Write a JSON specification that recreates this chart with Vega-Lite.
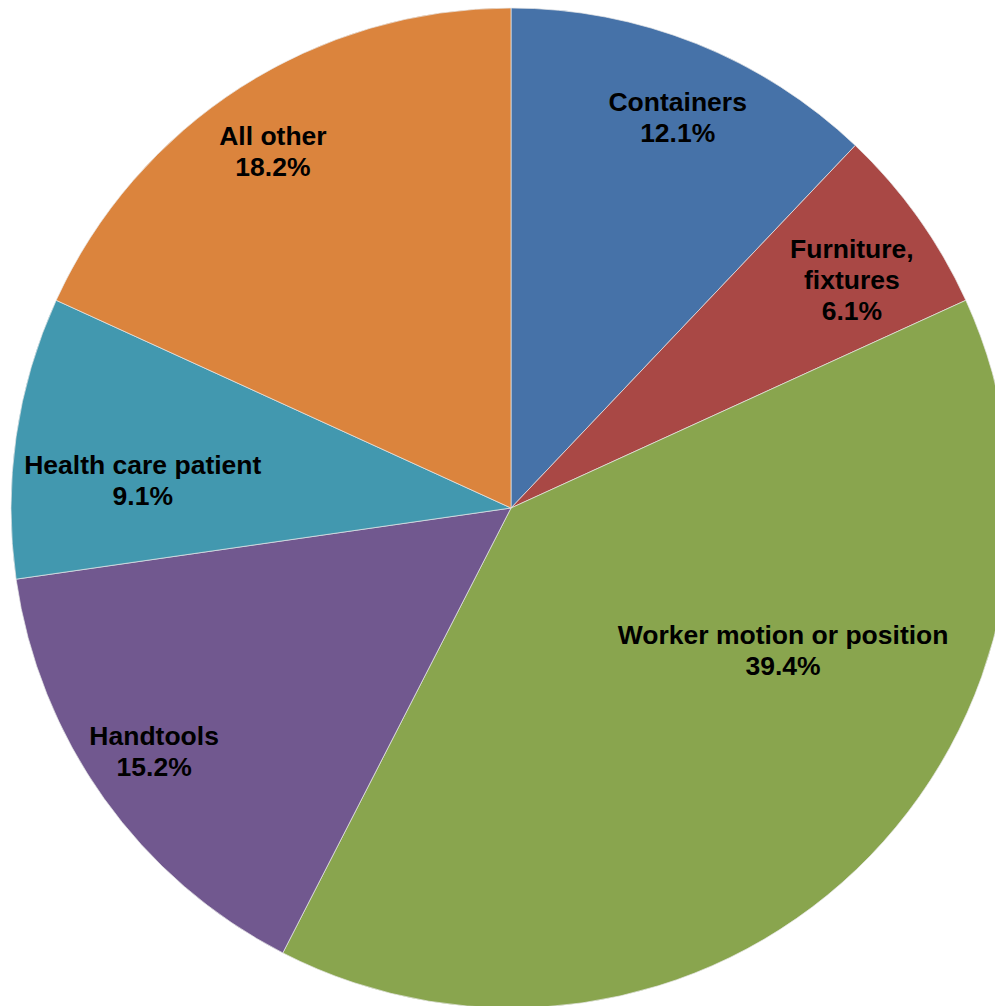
{
  "$schema": "https://vega.github.io/schema/vega-lite/v6.json",
  "width": 1022,
  "height": 1016,
  "autosize": "none",
  "padding": {"left": 0, "top": 0, "right": -27, "bottom": -10},
  "background": "white",
  "view": {"stroke": null},
  "data": {"values": [
    {"rank": 1, "category": "Containers", "value": 12.1, "label": "Containers\n12.1%"},
    {"rank": 2, "category": "Furniture, fixtures", "value": 6.1, "label": "Furniture,\nfixtures\n6.1%"},
    {"rank": 3, "category": "Worker motion or position", "value": 39.4, "label": "Worker motion or position\n39.4%"},
    {"rank": 4, "category": "Handtools", "value": 15.2, "label": "Handtools\n15.2%"},
    {"rank": 5, "category": "Health care patient", "value": 9.1, "label": "Health care patient\n9.1%"},
    {"rank": 6, "category": "All other", "value": 18.2, "label": "All other\n18.2%"}
  ]},
  "encoding": {
    "theta": {"field": "value", "type": "quantitative", "stack": true},
    "order": {"field": "rank", "type": "quantitative"}
  },
  "layer": [
    {
      "mark": {"type": "arc", "outerRadius": 500, "stroke": "#e8e8e8", "strokeWidth": 0.7},
      "encoding": {
        "color": {
          "field": "category", "type": "nominal", "legend": null,
          "scale": {
            "domain": ["Containers", "Furniture, fixtures", "Worker motion or position", "Handtools", "Health care patient", "All other"],
            "range": ["#4672A8", "#A94845", "#89A54E", "#71588F", "#4298AF", "#DB843D"]
          }
        }
      }
    },
    {
      "mark": {"type": "text", "radius": 420, "dx": 11, "dy": -15, "font": "Liberation Sans", "fontWeight": "bold", "fontSize": 26.5, "lineHeight": 31, "lineBreak": "\n", "color": "#000000", "align": "center", "baseline": "middle"},
      "encoding": {"text": {"condition": {"test": "datum.category === 'Containers'", "field": "label"}, "value": ""}}
    },
    {
      "mark": {"type": "text", "radius": 420, "dx": -1, "dy": -14, "font": "Liberation Sans", "fontWeight": "bold", "fontSize": 26.5, "lineHeight": 31, "lineBreak": "\n", "color": "#000000", "align": "center", "baseline": "middle"},
      "encoding": {"text": {"condition": {"test": "datum.category === 'Furniture, fixtures'", "field": "label"}, "value": ""}}
    },
    {
      "mark": {"type": "text", "radius": 307, "dx": 60, "dy": -94, "font": "Liberation Sans", "fontWeight": "bold", "fontSize": 26.5, "lineHeight": 31, "lineBreak": "\n", "color": "#000000", "align": "center", "baseline": "middle"},
      "encoding": {"text": {"condition": {"test": "datum.category === 'Worker motion or position'", "field": "label"}, "value": ""}}
    },
    {
      "mark": {"type": "text", "radius": 420, "dx": -15, "dy": -15, "font": "Liberation Sans", "fontWeight": "bold", "fontSize": 26.5, "lineHeight": 31, "lineBreak": "\n", "color": "#000000", "align": "center", "baseline": "middle"},
      "encoding": {"text": {"condition": {"test": "datum.category === 'Handtools'", "field": "label"}, "value": ""}}
    },
    {
      "mark": {"type": "text", "radius": 370, "dx": -2, "dy": 11, "font": "Liberation Sans", "fontWeight": "bold", "fontSize": 26.5, "lineHeight": 31, "lineBreak": "\n", "color": "#000000", "align": "center", "baseline": "middle"},
      "encoding": {"text": {"condition": {"test": "datum.category === 'Health care patient'", "field": "label"}, "value": ""}}
    },
    {
      "mark": {"type": "text", "radius": 420, "dx": -11, "dy": -18, "font": "Liberation Sans", "fontWeight": "bold", "fontSize": 26.5, "lineHeight": 31, "lineBreak": "\n", "color": "#000000", "align": "center", "baseline": "middle"},
      "encoding": {"text": {"condition": {"test": "datum.category === 'All other'", "field": "label"}, "value": ""}}
    }
  ]
}
